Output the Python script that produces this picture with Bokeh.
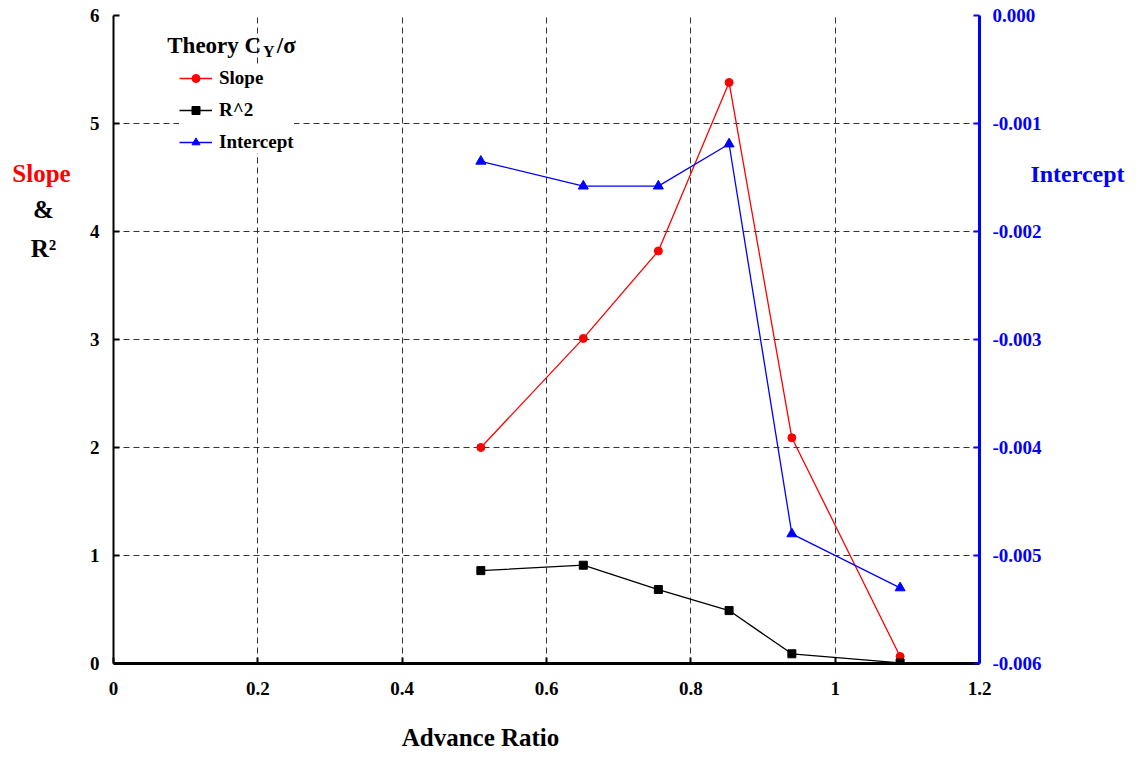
from bokeh.plotting import figure
from bokeh.models import (Range1d, LinearAxis, Legend, LegendItem, Label,
                          FixedTicker, CustomJSTickFormatter, PrintfTickFormatter)
from bokeh.embed import file_html
from bokeh.resources import INLINE

# ---- data ----
advance_ratio = [0.509, 0.651, 0.755, 0.853, 0.940, 1.090]
slope = [2.00, 3.01, 3.82, 5.38, 2.09, 0.065]
r_squared = [0.86, 0.91, 0.685, 0.49, 0.09, 0.005]
intercept = [-0.00135, -0.00158, -0.00158, -0.00119, -0.00480, -0.00530]

x_ticks = [0, 0.2, 0.4, 0.6, 0.8, 1.0, 1.2]
y_ticks = [0, 1, 2, 3, 4, 5, 6]
y2_ticks = [-0.006, -0.005, -0.004, -0.003, -0.002, -0.001, 0.0]

FONT = "Liberation Serif"

p = figure(frame_width=866, frame_height=648,
           x_range=Range1d(0, 1.2), y_range=Range1d(0, 6),
           output_backend="svg", toolbar_location=None,
           min_border_left=113, min_border_top=15,
           min_border_right=150, min_border_bottom=92)
p.outline_line_color = None
p.background_fill_color = "white"

p.extra_y_ranges = {"int": Range1d(-0.006, 0.0)}

for g in (p.xgrid, p.ygrid):
    g.grid_line_color = "#333333"
    g.grid_line_dash = "6 4"
    g.grid_line_width = 1
p.xgrid.ticker = FixedTicker(ticks=x_ticks)
p.ygrid.ticker = FixedTicker(ticks=y_ticks)

def style_axis(ax, color, lw, standoff):
    ax.axis_line_width = lw
    ax.axis_line_color = color
    ax.major_tick_in = 6
    ax.major_tick_out = 0
    ax.major_tick_line_color = color
    ax.major_tick_line_width = 2
    ax.minor_tick_line_color = None
    ax.major_label_standoff = standoff
    ax.major_label_text_font = FONT
    ax.major_label_text_font_style = "bold"
    ax.major_label_text_font_size = "19px"
    ax.major_label_text_color = color

xa = p.xaxis[0]
xa.ticker = FixedTicker(ticks=x_ticks)
xa.formatter = CustomJSTickFormatter(code="return String(Math.round(tick*10)/10);")
style_axis(xa, "black", 3, 18)

ya = p.yaxis[0]
ya.ticker = FixedTicker(ticks=y_ticks)
style_axis(ya, "black", 2, 14)

ra = LinearAxis(y_range_name="int")
ra.ticker = FixedTicker(ticks=y2_ticks)
ra.formatter = PrintfTickFormatter(format="%.3f")
style_axis(ra, "blue", 3, 13)
p.add_layout(ra, "right")

l1 = p.line(advance_ratio, slope, line_color="red", line_width=1.3)
s1 = p.scatter(advance_ratio, slope, marker="circle", size=8, color="red")
l2 = p.line(advance_ratio, r_squared, line_color="black", line_width=1.3)
s2 = p.scatter(advance_ratio, r_squared, marker="square", size=8, color="black")
l3 = p.line(advance_ratio, intercept, line_color="blue", line_width=1.3, y_range_name="int")
s3 = p.scatter(advance_ratio, intercept, marker="triangle", size=10, color="blue", y_range_name="int")

legend = Legend(items=[
    LegendItem(label="Slope", renderers=[l1, s1]),
    LegendItem(label="R^2", renderers=[l2, s2]),
    LegendItem(label="Intercept", renderers=[l3, s3]),
], location=(66, 510))
legend.glyph_width = 33
legend.glyph_height = 20
legend.label_height = 20
legend.spacing = 10
legend.padding = 5
legend.margin = 0
legend.label_standoff = 7
legend.border_line_color = None
legend.background_fill_color = "white"
legend.background_fill_alpha = 1
legend.label_text_font = FONT
legend.label_text_font_style = "bold"
legend.label_text_font_size = "19px"
legend.label_text_color = "black"
p.add_layout(legend)

def px2x(px):
    return (px - 113) / 724.6

def py2y(py):
    return (663 - py) / 108.0

def lab(px, py, text, size, color="black", align="left"):
    p.add_layout(Label(x=px2x(px), y=py2y(py), text=text, text_font=FONT,
                       text_font_style="bold", text_font_size=size,
                       text_color=color, text_align=align, text_baseline="middle"))

# legend title
lab(167, 45, "Theory C", "23px")
lab(263, 51, "Y", "16px")
lab(277, 45, "/σ", "23px")

def side_lab(side, sx, sy, text, size, color="black", lh=1.2):
    p.add_layout(Label(x=sx, y=sy, x_units="screen", y_units="screen", text=text,
                       text_font=FONT, text_font_style="bold", text_font_size=size,
                       text_color=color, text_align="center", text_baseline="middle",
                       text_line_height=lh), side)

# axis titles (in side panels, positions relative to each panel)
side_lab("below", 367, -13, "Advance Ratio", "25px")
side_lab("left", 13, 490, "Slope", "25px", "red")
side_lab("left", 41, 434.5, "&\nR²", "25px", lh=1.48)
side_lab("right", 33, 490, "Intercept", "24px", "blue")

open("out.html", "w").write(file_html(p, INLINE))
